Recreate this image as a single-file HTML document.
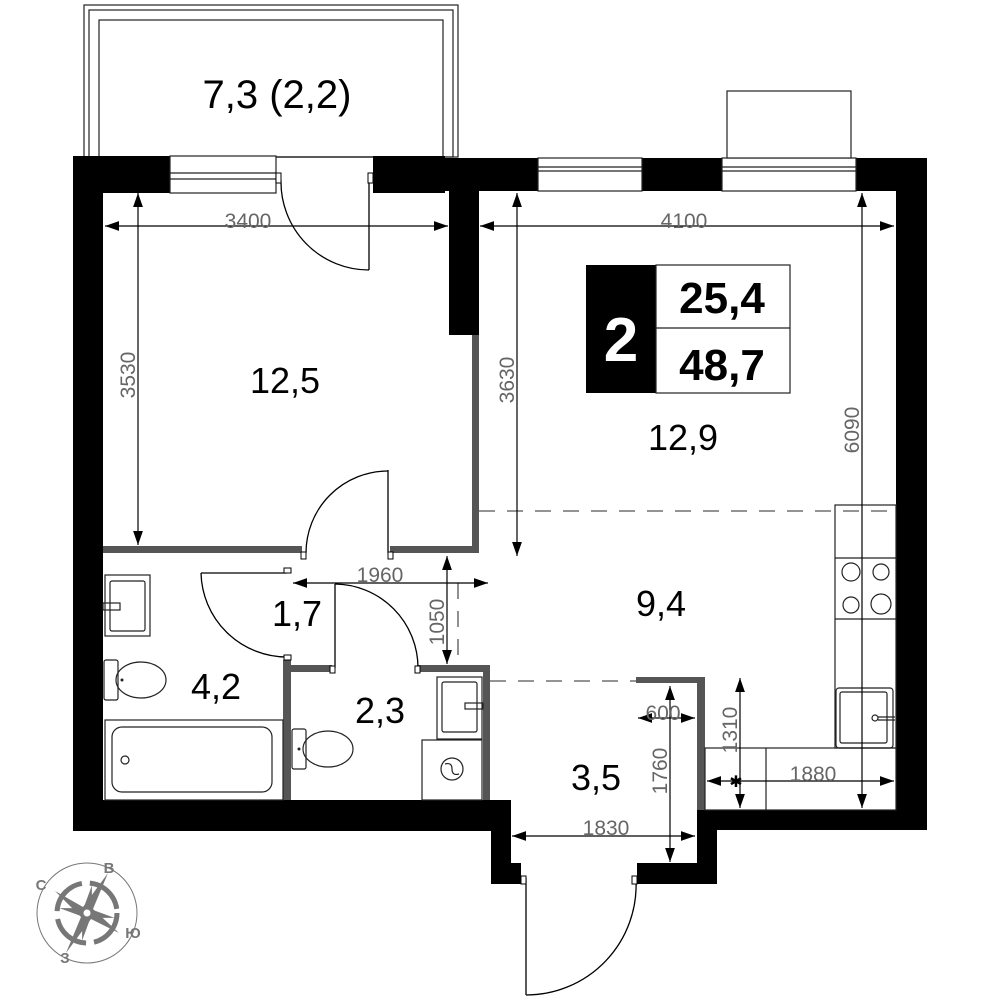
<!DOCTYPE html>
<html><head><meta charset="utf-8"><style>body{margin:0;background:#fff}svg{display:block}</style></head><body>
<svg width="1000" height="1000" viewBox="0 0 1000 1000" xmlns="http://www.w3.org/2000/svg" font-family="Liberation Sans, DejaVu Sans, sans-serif">
<defs>
<marker id="a" viewBox="0 0 10 10" refX="10" refY="5" markerWidth="14" markerHeight="14" markerUnits="userSpaceOnUse" orient="auto-start-reverse"><path d="M0,1.5 L10,5 L0,8.5z" fill="#000"/></marker>
</defs>
<g fill="none" stroke="#222" stroke-width="1.2">
<rect x="84" y="5" width="374" height="152"/>
<rect x="89" y="10" width="364" height="147"/>
<rect x="99" y="20" width="344" height="137"/>
</g>
<text x="277" y="108" font-size="40" text-anchor="middle">7,3 (2,2)</text>
<g fill="#000">
<rect x="73" y="156" width="97" height="37"/>
<rect x="373" y="156" width="72" height="37"/>
<rect x="442" y="158" width="96" height="33"/>
<rect x="642" y="158" width="80" height="33"/>
<rect x="856" y="158" width="71" height="33"/>
<rect x="73" y="192" width="30" height="638"/>
<rect x="896" y="191" width="31" height="639"/>
<rect x="449" y="191" width="30" height="144"/>
<rect x="73" y="800" width="438" height="31"/>
<rect x="491" y="800" width="20" height="84"/>
<rect x="491" y="863" width="30" height="21"/>
<rect x="697" y="810" width="230" height="20"/>
<rect x="697" y="810" width="20" height="74"/>
<rect x="637" y="863" width="80" height="21"/>
</g>
<g fill="#fff" stroke="#222" stroke-width="1.2">
<rect x="170" y="156" width="106" height="37"/>
<line x1="170" y1="173" x2="276" y2="173"/><line x1="170" y1="179" x2="276" y2="179"/>
<rect x="538" y="158" width="104" height="33"/>
<line x1="538" y1="167" x2="642" y2="167"/><line x1="538" y1="171" x2="642" y2="171"/>
<rect x="722" y="158" width="134" height="33"/>
<line x1="722" y1="167" x2="856" y2="167"/><line x1="722" y1="171" x2="856" y2="171"/>
<rect x="727" y="91" width="124" height="67"/>
</g>
<g fill="#555">
<rect x="472" y="335" width="7" height="218"/>
<rect x="103" y="546" width="199" height="7"/>
<rect x="390" y="546" width="89" height="7"/>
<rect x="283" y="660" width="8" height="140"/>
<rect x="283" y="665" width="49" height="7"/>
<rect x="418" y="665" width="72" height="7"/>
<rect x="483" y="665" width="7" height="135"/>
<rect x="636" y="677" width="69" height="6"/>
<rect x="697" y="677" width="8" height="133"/>
</g>
<g fill="none" stroke="#000" stroke-width="1.3">
<line x1="369" y1="180" x2="369" y2="270"/><path d="M281,180 A88,88 0 0 0 369,270"/>
<line x1="388" y1="470" x2="388" y2="553"/><path d="M306,553 A82,82 0 0 1 388,471"/>
<line x1="201" y1="573" x2="287" y2="573"/><path d="M201,573 A86,86 0 0 0 287,657"/>
<line x1="335" y1="584" x2="335" y2="668"/><path d="M335,584 A84,84 0 0 1 418,668"/>
<line x1="526" y1="878" x2="526" y2="995"/><path d="M526,995 A110,110 0 0 0 636,880"/>
</g>
<g fill="#fff" stroke="#000" stroke-width="1">
<rect x="301" y="552" width="5" height="7"/><rect x="388" y="552" width="5" height="7"/>
<rect x="284" y="568" width="7" height="5"/><rect x="284" y="655" width="7" height="5"/>
<rect x="330" y="666" width="5" height="7"/><rect x="415" y="666" width="5" height="7"/>
<rect x="521" y="876" width="5" height="8"/><rect x="632" y="876" width="5" height="8"/>
<rect x="276" y="173" width="5" height="10"/><rect x="368" y="173" width="5" height="10"/>
</g>
<g stroke="#555" stroke-width="1.3" stroke-dasharray="16,12" fill="none">
<line x1="479" y1="511" x2="896" y2="511"/>
<line x1="490" y1="681" x2="636" y2="681"/>
<line x1="458" y1="583" x2="458" y2="665"/>
</g>
<g fill="none" stroke="#222" stroke-width="1.2">
<rect x="835" y="505" width="61" height="243"/>
<line x1="835" y1="558" x2="896" y2="558"/><line x1="835" y1="619" x2="896" y2="619"/>
<circle cx="851" cy="572" r="9"/><circle cx="881" cy="572" r="8"/><circle cx="851" cy="605" r="8"/><circle cx="881" cy="604" r="10"/>
<rect x="836" y="688" width="57" height="60" rx="3"/><rect x="840" y="692" width="47" height="51" rx="2"/>
<circle cx="875" cy="718" r="3"/><line x1="878" y1="717" x2="895" y2="717"/><line x1="878" y1="720" x2="895" y2="720"/>
<rect x="705" y="748" width="191" height="62"/><line x1="766" y1="748" x2="766" y2="810"/>
<rect x="105" y="575" width="45" height="61"/><rect x="110" y="581" width="35" height="50" rx="2"/><rect x="103" y="603" width="17" height="7"/>
<rect x="104" y="660" width="14" height="40" rx="2"/><ellipse cx="141" cy="680" rx="25" ry="18"/>
<rect x="105" y="720" width="178" height="80"/><rect x="112" y="727" width="160" height="65" rx="10" ry="10"/>
<circle cx="125" cy="760" r="4"/>
<rect x="292" y="729" width="14" height="40" rx="2"/><ellipse cx="328" cy="749" rx="25" ry="18"/>
<rect x="437" y="677" width="45" height="62"/><rect x="442" y="682" width="35" height="50" rx="2"/><rect x="465" y="703" width="18" height="6"/>
<rect x="422" y="740" width="60" height="60"/><circle cx="452" cy="769" r="11"/>
<path d="M445,764 Q452,762 452,769 Q452,776 459,774"/>
</g>
<g fill="#222"><circle cx="122" cy="680" r="1.5"/><circle cx="299" cy="749" r="1.5"/></g>
<g stroke="#000" stroke-width="1.2" fill="none" marker-start="url(#a)" marker-end="url(#a)">
<line x1="105" y1="226" x2="448" y2="226"/>
<line x1="480" y1="226" x2="894" y2="226"/>
<line x1="138" y1="193" x2="138" y2="545"/>
<line x1="517" y1="193" x2="517" y2="556"/>
<line x1="862" y1="193" x2="862" y2="808"/>
<line x1="293" y1="583" x2="488" y2="583"/>
<line x1="447" y1="556" x2="447" y2="664"/>
<line x1="670" y1="686" x2="670" y2="862"/>
<line x1="638" y1="718" x2="695" y2="718"/>
<line x1="740" y1="678" x2="740" y2="808"/>
<line x1="707" y1="781" x2="894" y2="781"/>
<line x1="512" y1="836" x2="695" y2="836"/>
</g>
<text x="736" y="787" font-size="16" text-anchor="middle">✱</text>
<g fill="#666" font-size="21">
<text x="248" y="228" text-anchor="middle">3400</text>
<text x="684" y="228" text-anchor="middle">4100</text>
<text x="380" y="582" text-anchor="middle">1960</text>
<text x="606" y="835" text-anchor="middle">1830</text>
<text x="813" y="781" text-anchor="middle">1880</text>
<text x="663" y="720" text-anchor="middle">600</text>
<text transform="translate(135,375) rotate(-90)" text-anchor="middle">3530</text>
<text transform="translate(514,380) rotate(-90)" text-anchor="middle">3630</text>
<text transform="translate(859,430) rotate(-90)" text-anchor="middle">6090</text>
<text transform="translate(444,622) rotate(-90)" text-anchor="middle">1050</text>
<text transform="translate(667,771) rotate(-90)" text-anchor="middle">1760</text>
<text transform="translate(737,730) rotate(-90)" text-anchor="middle">1310</text>
</g>
<g font-size="36" text-anchor="middle" fill="#000">
<text x="285" y="393">12,5</text>
<text x="683" y="450">12,9</text>
<text x="661" y="616">9,4</text>
<text x="297" y="626">1,7</text>
<text x="216" y="699">4,2</text>
<text x="380" y="723">2,3</text>
<text x="596" y="790">3,5</text>
</g>
<rect x="586" y="265" width="70" height="128" fill="#000"/>
<rect x="656" y="265" width="134" height="128" fill="#fff" stroke="#222" stroke-width="1.2"/>
<line x1="656" y1="328" x2="790" y2="328" stroke="#222" stroke-width="1.2"/>
<text x="621" y="361" font-size="62" font-weight="bold" fill="#fff" text-anchor="middle">2</text>
<text x="722" y="313" font-size="44" font-weight="bold" text-anchor="middle">25,4</text>
<text x="722" y="380" font-size="44" font-weight="bold" text-anchor="middle">48,7</text>
<g transform="translate(87,913)">
<circle r="50" fill="none" stroke="#777" stroke-width="1"/>
<circle r="30" fill="none" stroke="#777" stroke-width="5" stroke-dasharray="40,8"/>
<path d="M-32,-22 L-4,-6 L0,0 L-6,4z M21,-40 L6,-4 L0,0 L-4,-6z M32,20 L4,6 L0,0 L6,-4z M-21,40 L-6,4 L0,0 L4,6z" fill="#777"/>
<path d="M0,-28 L5,0 L0,28 L-5,0z M-28,0 L0,-5 L28,0 L0,5z" fill="#777" transform="rotate(10)"/>
<circle r="7" fill="#777"/><circle r="3.5" fill="#fff"/>
<text x="-46" y="-23" font-size="15" font-weight="bold" fill="#777" text-anchor="middle">С</text>
<text x="22" y="-40" font-size="15" font-weight="bold" fill="#777" text-anchor="middle">В</text>
<text x="46" y="25" font-size="15" font-weight="bold" fill="#777" text-anchor="middle">Ю</text>
<text x="-22" y="50" font-size="15" font-weight="bold" fill="#777" text-anchor="middle">З</text>
</g>
</svg>
</body></html>
